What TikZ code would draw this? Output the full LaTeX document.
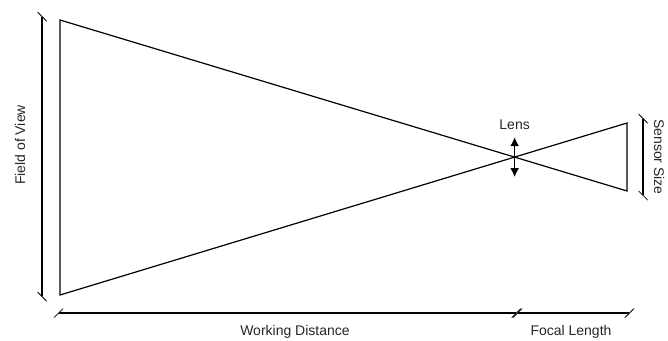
\documentclass[tikz,border=0pt]{standalone}
\usepackage{fontspec}
\setmainfont{Liberation Sans}
\usetikzlibrary{arrows.meta}

\begin{document}
\begin{tikzpicture}[x=1pt, y=-1pt, line width=1.2pt]
  \tikzset{
    every node/.style={font=\fontsize{14}{16}\selectfont, text=black!85},
    dimline/.style={{Bar[width=9pt,slant=1]}-{Bar[width=9pt,slant=1]}},
    lensarrow/.style={{Latex[length=9pt,width=9pt]}-{Latex[length=9pt,width=9pt]}, line width=1.7pt}
  }
  \useasboundingbox (0,0) rectangle (668,340);

  % object plane and sensor plane
  \coordinate (objtop) at (60,20);
  \coordinate (objbot) at (60,295);
  \coordinate (sentop) at (627,123);
  \coordinate (senbot) at (627,191);
  \coordinate (lens) at (intersection of objtop--senbot and objbot--sentop);

  % ray cone through the lens
  \draw[line join=miter] (senbot) -- (objtop) -- (objbot) -- (sentop) -- cycle;

  % lens
  \coordinate (lenstop) at ([yshift=20pt]lens);
  \coordinate (lensbot) at ([yshift=-20pt]lens);
  \draw[lensarrow] (lenstop) -- (lensbot);
  \node (lenslabel) at ([yshift=32pt]lens) {Lens};

  % dimensions
  \coordinate (fovtop) at (42,16);
  \coordinate (fovbot) at (42,297);
  \draw[dimline] (fovtop) -- (fovbot);
  \node[rotate=90] (fovlabel) at (20,145) {Field of View};

  \coordinate (sstop) at (643,118);
  \coordinate (ssbot) at (643,196);
  \draw[dimline] (sstop) -- (ssbot);
  \node[rotate=-90] (sslabel) at (659,157) {Sensor Size};

  \coordinate (wdstart) at (58,313);
  \coordinate (wdend) at (517,313);
  \coordinate (flend) at (630,313);
  \draw[dimline] (wdstart) -- (wdend);
  \draw[dimline] (wdend) -- (flend);
  \node (wdlabel) at (295,332) {Working Distance};
  \node (fllabel) at (571,332) {Focal Length};
\end{tikzpicture}
\end{document}
